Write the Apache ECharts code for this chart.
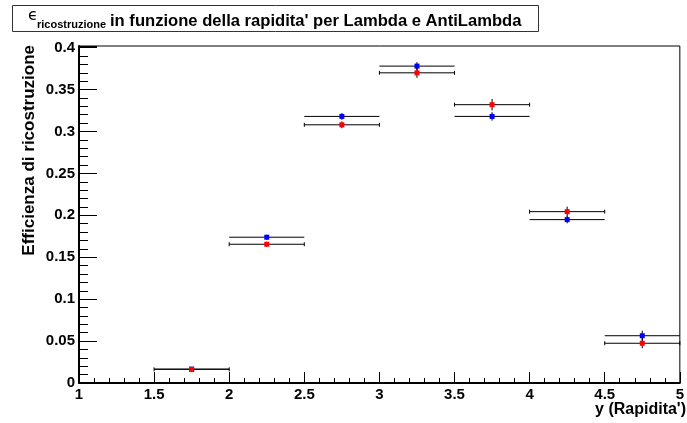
<!DOCTYPE html>
<html>
<head>
<meta charset="utf-8">
<script src="https://cdn.jsdelivr.net/npm/echarts@6/dist/echarts.min.js"></script>
<style>html,body{margin:0;padding:0;background:#fff}#c{width:687px;height:423px}</style>
</head>
<body>
<div id="c"></div>
<script>
// ---- data ----
const binCenters = [1.75, 2.25, 2.75, 3.25, 3.75, 4.25, 4.75];
const binHalfWidth = 0.25;
const lambdaEff = [0.0166, 0.1739, 0.318, 0.378, 0.318, 0.1949, 0.0564];   // blue
const lambdaErr = [0.001, 0.003, 0.004, 0.0048, 0.005, 0.0044, 0.006];
const antiEff   = [0.0163, 0.1655, 0.308, 0.370, 0.332, 0.2044, 0.0474];   // red
const antiErr   = [0.001, 0.003, 0.004, 0.006, 0.0068, 0.006, 0.006];
const xTicks = [1, 1.5, 2, 2.5, 3, 3.5, 4, 4.5, 5];
const yTicks = [0, 0.05, 0.1, 0.15, 0.2, 0.25, 0.3, 0.35, 0.4];

const titleSub = 'ricostruzione';
const titleMain = "in funzione della rapidita' per Lambda e AntiLambda";
const yTitle = 'Efficienza di ricostruzione';
const xTitle = "y (Rapidita')";

const FONT = '"Liberation Sans", Arial, Helvetica, sans-serif';

function makeRender(color, caps) {
  return function (params, api) {
    const x = api.value(0), y = api.value(1), e = api.value(2);
    const pl = api.coord([x - binHalfWidth, y]);
    const pr = api.coord([x + binHalfWidth, y]);
    const pc = api.coord([x, y]);
    const pt = api.coord([x, y + e]);
    const pb = api.coord([x, y - e]);
    const st = { stroke: '#000', lineWidth: 1 };
    const children = [
      { type: 'line', shape: { x1: pl[0], y1: pl[1], x2: pr[0], y2: pr[1] }, style: st },
      { type: 'line', shape: { x1: pt[0], y1: pt[1], x2: pb[0], y2: pb[1] }, style: st }
    ];
    if (caps) {
      children.push({ type: 'line', shape: { x1: pl[0], y1: pl[1] - 2, x2: pl[0], y2: pl[1] + 2 }, style: st });
      children.push({ type: 'line', shape: { x1: pr[0], y1: pr[1] - 2, x2: pr[0], y2: pr[1] + 2 }, style: st });
    }
    children.push({ type: 'rect', shape: { x: pc[0] - 2.5, y: pc[1] - 2.5, width: 5, height: 5 }, style: { fill: color } });
    return { type: 'group', children };
  };
}

const chart = echarts.init(document.getElementById('c'), null, { renderer: 'canvas' });
chart.setOption({
  animation: false,
  backgroundColor: '#fff',
  grid: { left: 79, right: 3, top: 46, bottom: 40, show: true, borderColor: '#000', borderWidth: 1, backgroundColor: 'transparent' },
  xAxis: {
    type: 'value', min: xTicks[0], max: xTicks[xTicks.length - 1], interval: 0.5,
    axisLine: { show: true, onZero: false, lineStyle: { color: '#000', width: 2 } },
    axisTick: { show: true, inside: true, length: 11, lineStyle: { color: '#000', width: 1 } },
    minorTick: { show: true, splitNumber: 5, length: 5, lineStyle: { color: '#000', width: 1 } },
    splitLine: { show: false },
    axisLabel: { color: '#000', fontFamily: FONT, fontWeight: 'bold', fontSize: 15, margin: 4,
      formatter: v => String(v) }
  },
  yAxis: {
    type: 'value', min: 0, max: 0.402, interval: 0.05,
    axisLine: { show: true, onZero: false, lineStyle: { color: '#000', width: 2 } },
    axisTick: { show: true, inside: true, length: 18, lineStyle: { color: '#000', width: 1 } },
    minorTick: { show: true, splitNumber: 5, length: 9, lineStyle: { color: '#000', width: 1 } },
    splitLine: { show: false },
    axisLabel: { color: '#000', fontFamily: FONT, fontWeight: 'bold', fontSize: 15, margin: 4,
      showMaxLabel: false,
      formatter: v => { const r = Math.round(v * 100) / 100; return yTicks.some(t => Math.abs(t - v) < 1e-6) ? String(r) : ''; } }
  },
  series: [
    { type: 'custom', name: 'Lambda', renderItem: makeRender('#0000ff', false), clip: false,
      encode: { x: 0, y: 1 }, data: binCenters.map((x, i) => [x, lambdaEff[i], lambdaErr[i]]) },
    { type: 'custom', name: 'AntiLambda', renderItem: makeRender('#ff0000', true), clip: false,
      encode: { x: 0, y: 1 }, data: binCenters.map((x, i) => [x, antiEff[i], antiErr[i]]) }
  ],
  graphic: [
    { type: 'rect', shape: { x: 12.5, y: 5.5, width: 526, height: 26 }, style: { fill: '#fff', stroke: '#333', lineWidth: 1 } },
    { type: 'text', x: 28, y: 16, style: { text: 'ϵ', font: 'normal 16px "DejaVu Sans", sans-serif', fill: '#000', textVerticalAlign: 'middle' } },
    { type: 'text', x: 37, y: 25, style: { text: titleSub, font: 'bold 11px ' + FONT, fill: '#000', textVerticalAlign: 'middle' } },
    { type: 'text', x: 110, y: 21, style: { text: titleMain, font: 'bold 16.6px ' + FONT, fill: '#000', textVerticalAlign: 'middle' } },
    { type: 'text', x: 29, y: 45, rotation: Math.PI / 2, style: { text: yTitle, font: 'bold 17px ' + FONT, fill: '#000', textAlign: 'right', textVerticalAlign: 'middle' } },
    { type: 'text', x: 686, y: 410, style: { text: xTitle, font: 'bold 16px ' + FONT, fill: '#000', textAlign: 'right', textVerticalAlign: 'middle' } }
  ]
});
</script>
</body>
</html>
